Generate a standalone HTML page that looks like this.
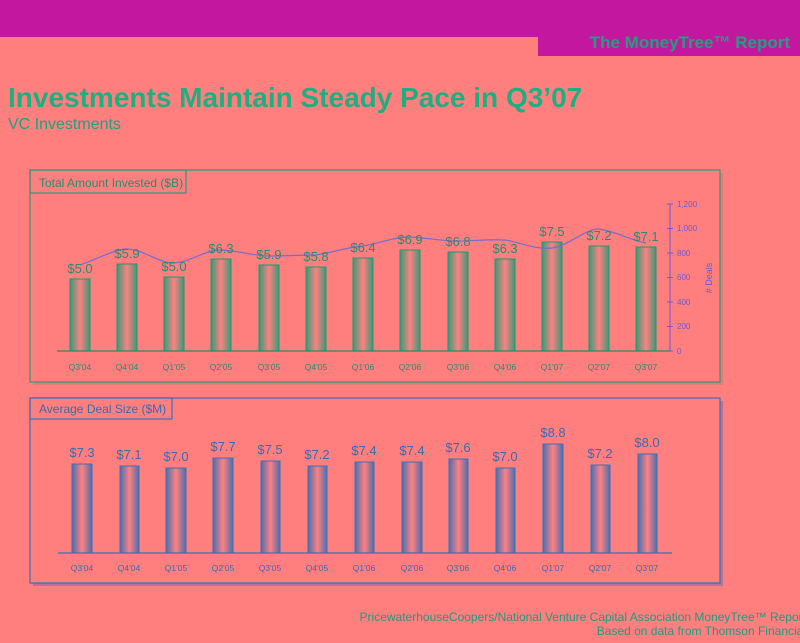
<!DOCTYPE html>
<html><head><meta charset="utf-8"><style>
html,body{margin:0;padding:0;background:#ff7f7f;width:800px;height:643px;overflow:hidden}
svg{display:block}
</style></head><body>
<svg width="800" height="643" xmlns="http://www.w3.org/2000/svg" font-family="Liberation Sans, sans-serif">
<defs>
<linearGradient id="g" x1="0" x2="1" y1="0" y2="0">
<stop offset="0" stop-color="#3a9a78"/><stop offset="0.5" stop-color="#ff8080"/><stop offset="1" stop-color="#3a9a78"/></linearGradient>
<linearGradient id="b" x1="0" x2="1" y1="0" y2="0">
<stop offset="0" stop-color="#4a6fb0"/><stop offset="0.5" stop-color="#ff8080"/><stop offset="1" stop-color="#4a6fb0"/></linearGradient>
</defs>
<rect width="800" height="643" fill="#ff7f7f"/>
<rect x="0" y="0" width="800" height="37" fill="#c4179f"/>
<rect x="538" y="0" width="262" height="56" fill="#c4179f"/>
<text x="790" y="48" text-anchor="end" font-size="17" font-weight="bold" fill="#1fa080">The MoneyTree™ Report</text>
<text x="8" y="107" font-size="28" font-weight="bold" fill="#1fae80">Investments Maintain Steady Pace in Q3’07</text>
<text x="8" y="129" font-size="16" fill="#1fa080">VC Investments</text>

<!-- Top chart -->
<rect x="33" y="173" width="690" height="212" fill="#c87a70" opacity="0.6"/>
<rect x="30" y="170" width="690" height="212" fill="#ff7f7f" stroke="#2a9a78" stroke-width="1.2"/>
<rect x="30" y="170" width="156" height="23" fill="none" stroke="#2a9a78" stroke-width="1.2"/>
<text x="39" y="187" font-size="12" fill="#2a8a70">Total Amount Invested ($B)</text>
<g id="top" fill="url(#g)" stroke="#1a9a70" stroke-width="1">
<rect x="70" y="279" width="20" height="72"/>
<rect x="117" y="264" width="20" height="87"/>
<rect x="164" y="277" width="20" height="74"/>
<rect x="211" y="259" width="20" height="92"/>
<rect x="259" y="265" width="20" height="86"/>
<rect x="306" y="267" width="20" height="84"/>
<rect x="353" y="258" width="20" height="93"/>
<rect x="400" y="250" width="20" height="101"/>
<rect x="448" y="252" width="20" height="99"/>
<rect x="495" y="259" width="20" height="92"/>
<rect x="542" y="242" width="20" height="109"/>
<rect x="589" y="246" width="20" height="105"/>
<rect x="636" y="247" width="20" height="104"/>
</g>
<line x1="57" y1="351" x2="670" y2="351" stroke="#2a8a6a" stroke-width="1.2"/>
<path d="M80,265 C100,258 115,249 127,249 C145,250 158,263 174,263 C190,262 205,250 221,250 C240,251 255,256 269,256 C285,256 300,255 316,255 C335,252 348,247 363,246 C380,243 395,237 410,237 C428,238 443,241 458,241 C475,241 490,239 505,240 C520,242 535,250 552,248 C570,245 585,229 599,229 C615,231 630,240 646,243" fill="none" stroke="#7a6ad0" stroke-width="1.2"/>
<g font-size="13" fill="#2a8a70" text-anchor="middle">
<text x="80" y="273">$5.0</text><text x="127" y="258">$5.9</text><text x="174" y="271">$5.0</text>
<text x="221" y="253">$6.3</text><text x="269" y="259">$5.9</text><text x="316" y="261">$5.8</text>
<text x="363" y="252">$6.4</text><text x="410" y="244">$6.9</text><text x="458" y="246">$6.8</text>
<text x="505" y="253">$6.3</text><text x="552" y="236">$7.5</text><text x="599" y="240">$7.2</text><text x="646" y="241">$7.1</text>
</g>
<g font-size="8.5" fill="#2a8a70" text-anchor="middle">
<text x="80" y="370">Q3'04</text><text x="127" y="370">Q4'04</text><text x="174" y="370">Q1'05</text>
<text x="221" y="370">Q2'05</text><text x="269" y="370">Q3'05</text><text x="316" y="370">Q4'05</text>
<text x="363" y="370">Q1'06</text><text x="410" y="370">Q2'06</text><text x="458" y="370">Q3'06</text>
<text x="505" y="370">Q4'06</text><text x="552" y="370">Q1'07</text><text x="599" y="370">Q2'07</text><text x="646" y="370">Q3'07</text>
</g>
<g stroke="#6a5ae0" stroke-width="1">
<line x1="670" y1="204" x2="670" y2="351"/>
<line x1="667" y1="204" x2="673" y2="204"/><line x1="667" y1="228.5" x2="673" y2="228.5"/>
<line x1="667" y1="253" x2="673" y2="253"/><line x1="667" y1="277.5" x2="673" y2="277.5"/>
<line x1="667" y1="302" x2="673" y2="302"/><line x1="667" y1="326.5" x2="673" y2="326.5"/>
<line x1="667" y1="351" x2="673" y2="351"/>
</g>
<g font-size="8" fill="#6a5ad0">
<text x="677" y="207">1,200</text><text x="677" y="231">1,000</text><text x="677" y="256">800</text>
<text x="677" y="280">600</text><text x="677" y="305">400</text><text x="677" y="329">200</text><text x="677" y="354">0</text>
</g>
<text transform="translate(712,278) rotate(-90)" font-size="9" fill="#6a5ad0" text-anchor="middle"># Deals</text>

<!-- Bottom chart -->
<rect x="33" y="401" width="690" height="185" fill="#6a6aa8" opacity="0.5"/>
<rect x="30" y="398" width="690" height="185" fill="#ff7f7f" stroke="#3a70b8" stroke-width="1.2"/>
<rect x="30" y="398" width="142" height="21" fill="none" stroke="#3a70b8" stroke-width="1.2"/>
<text x="39" y="413" font-size="12" fill="#3a6ab0">Average Deal Size ($M)</text>
<g fill="url(#b)" stroke="#3a70b8" stroke-width="1">
<rect x="72" y="464" width="20" height="89"/>
<rect x="120" y="466" width="19" height="87"/>
<rect x="166" y="468" width="20" height="85"/>
<rect x="213" y="458" width="20" height="95"/>
<rect x="261" y="461" width="19" height="92"/>
<rect x="308" y="466" width="19" height="87"/>
<rect x="355" y="462" width="19" height="91"/>
<rect x="402" y="462" width="20" height="91"/>
<rect x="449" y="459" width="19" height="94"/>
<rect x="496" y="468" width="19" height="85"/>
<rect x="543" y="444" width="20" height="109"/>
<rect x="591" y="465" width="19" height="88"/>
<rect x="638" y="454" width="19" height="99"/>
</g>
<line x1="58" y1="553" x2="672" y2="553" stroke="#3a70b8" stroke-width="1.2"/>
<g font-size="13" fill="#3a6ab0" text-anchor="middle">
<text x="82" y="457">$7.3</text><text x="129" y="459">$7.1</text><text x="176" y="461">$7.0</text>
<text x="223" y="451">$7.7</text><text x="270" y="454">$7.5</text><text x="317" y="459">$7.2</text>
<text x="364" y="455">$7.4</text><text x="412" y="455">$7.4</text><text x="458" y="452">$7.6</text>
<text x="505" y="461">$7.0</text><text x="553" y="437">$8.8</text><text x="600" y="458">$7.2</text><text x="647" y="447">$8.0</text>
</g>
<g font-size="8.5" fill="#3a6ab0" text-anchor="middle">
<text x="82" y="571">Q3'04</text><text x="129" y="571">Q4'04</text><text x="176" y="571">Q1'05</text>
<text x="223" y="571">Q2'05</text><text x="270" y="571">Q3'05</text><text x="317" y="571">Q4'05</text>
<text x="364" y="571">Q1'06</text><text x="412" y="571">Q2'06</text><text x="458" y="571">Q3'06</text>
<text x="505" y="571">Q4'06</text><text x="553" y="571">Q1'07</text><text x="600" y="571">Q2'07</text><text x="647" y="571">Q3'07</text>
</g>

<g font-size="12" fill="#1f9a80" text-anchor="end">
<text x="806" y="621">PricewaterhouseCoopers/National Venture Capital Association MoneyTree™ Report</text>
<text x="806" y="635">Based on data from Thomson Financial</text>
</g>
</svg>
</body></html>
